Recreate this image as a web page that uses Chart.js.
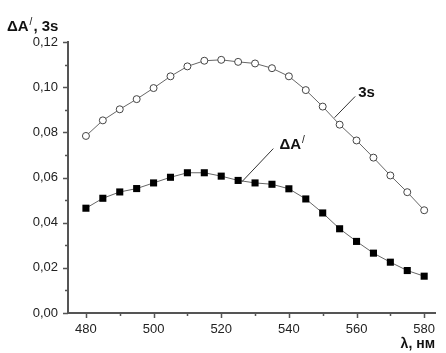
<!DOCTYPE html>
<html>
<head>
<meta charset="utf-8">
<script src="https://cdn.jsdelivr.net/npm/chart.js@4/dist/chart.umd.min.js"></script>
<style>
  html, body { margin: 0; padding: 0; background: #fff; }
  #wrap { width: 446px; height: 353px; }
</style>
</head>
<body>
<div id="wrap"><canvas id="chart" width="446" height="353"></canvas></div>
<script>
// ── Data ──────────────────────────────────────────────────
const wavelengths = [480, 485, 490, 495, 500, 505, 510, 515, 520, 525, 530,
                     535, 540, 545, 550, 555, 560, 565, 570, 575, 580];
const sigma3 = [0.0784, 0.0853, 0.0902, 0.0947, 0.0996, 0.1048, 0.1092, 0.1117, 0.1121, 0.1112, 0.1105,
                0.1084, 0.1048, 0.0987, 0.0914, 0.0834, 0.0764, 0.0688, 0.0609, 0.0535, 0.0455];
const deltaA = [0.0464, 0.0508, 0.0536, 0.0551, 0.0576, 0.0601, 0.0621, 0.0621, 0.0606, 0.0587, 0.0576,
                0.0570, 0.0550, 0.0505, 0.0443, 0.0373, 0.0317, 0.0265, 0.0225, 0.0188, 0.0163];
const xTicks = [480, 500, 520, 540, 560, 580];
const yTicks = [0, 0.02, 0.04, 0.06, 0.08, 0.10, 0.12];

const AXIS = '#555';
const FONT = '"Liberation Sans", Arial, sans-serif';

// ── Custom ticks, titles and callouts ─────────────────────
const decor = {
  id: 'decor',
  afterDraw(chart) {
    const { ctx, scales: { x, y } } = chart;
    ctx.save();
    ctx.strokeStyle = AXIS;
    ctx.lineWidth = 1.5;
    ctx.beginPath();
    // x ticks (major every 20, minor every 10)
    for (let v = 480; v <= 580; v += 10) {
      const px = Math.round(x.getPixelForValue(v)) + 0.5;
      const len = v % 20 === 0 ? 5 : 3;
      ctx.moveTo(px, y.bottom);
      ctx.lineTo(px, y.bottom + len);
    }
    // y ticks (major every 0.02, minor every 0.01)
    for (let i = 0; i <= 12; i++) {
      const py = Math.round(y.getPixelForValue(i / 100)) + 0.5;
      const len = i % 2 === 0 ? 5 : 3;
      ctx.moveTo(x.left, py);
      ctx.lineTo(x.left - len, py);
    }
    ctx.stroke();

    // callout leaders
    ctx.strokeStyle = '#333';
    ctx.lineWidth = 1;
    ctx.beginPath();
    ctx.moveTo(x.getPixelForValue(553.5), y.getPixelForValue(0.0865));
    ctx.lineTo(x.getPixelForValue(559.6), y.getPixelForValue(0.0959));
    ctx.moveTo(x.getPixelForValue(526.1), y.getPixelForValue(0.0581));
    ctx.lineTo(x.getPixelForValue(535.4), y.getPixelForValue(0.0728));
    ctx.stroke();

    ctx.fillStyle = '#111';
    ctx.textBaseline = 'alphabetic';
    ctx.textAlign = 'left';

    // "3s" callout
    ctx.font = 'bold 15px ' + FONT;
    ctx.fillText('3s', x.getPixelForValue(560.5), y.getPixelForValue(0.0958));

    // "ΔA/" callout
    let cx = x.getPixelForValue(537.2), cy = y.getPixelForValue(0.0727);
    ctx.font = 'bold 15px ' + FONT;
    ctx.fillText('ΔA', cx, cy);
    cx += ctx.measureText('ΔA').width + 1;
    ctx.font = '10px ' + FONT;
    ctx.fillText('/', cx, cy - 6);

    // y title
    let tx = 7, ty = 31;
    ctx.font = 'bold 15px ' + FONT;
    ctx.fillText('ΔA', tx, ty);
    tx += ctx.measureText('ΔA').width + 1;
    ctx.font = '10px ' + FONT;
    ctx.fillText('/', tx, ty - 6);
    tx += ctx.measureText('/').width + 1;
    ctx.font = 'bold 15px ' + FONT;
    ctx.fillText(', 3s', tx, ty);

    // x title
    ctx.textAlign = 'right';
    ctx.font = 'bold 14px ' + FONT;
    ctx.fillText('λ, нм', 435, 348);
    ctx.restore();
  }
};

const ctx = document.getElementById('chart').getContext('2d');
new Chart(ctx, {
  type: 'line',
  data: {
    datasets: [
      {
        label: '3s',
        data: wavelengths.map((w, i) => ({ x: w, y: sigma3[i] })),
        borderColor: '#666',
        borderWidth: 1,
        pointStyle: 'circle',
        pointRadius: 3.5,
        pointBorderColor: '#444',
        pointBorderWidth: 1,
        pointBackgroundColor: '#fff',
        tension: 0,
      },
      {
        label: 'ΔA/',
        data: wavelengths.map((w, i) => ({ x: w, y: deltaA[i] })),
        borderColor: '#666',
        borderWidth: 1,
        pointStyle: 'rect',
        pointRadius: 5,
        pointBorderColor: '#000',
        pointBorderWidth: 0,
        pointBackgroundColor: '#000',
        tension: 0,
      },
    ],
  },
  options: {
    responsive: false,
    animation: false,
    events: [],
    layout: { padding: { left: 0, top: 42, right: 11, bottom: 0 } },
    plugins: { legend: { display: false }, tooltip: { enabled: false } },
    scales: {
      x: {
        type: 'linear',
        min: 474.7,
        max: 583.2,
        grid: { display: false, drawTicks: false },
        border: { display: true, color: AXIS, width: 2 },
        afterBuildTicks: s => { s.ticks = xTicks.map(v => ({ value: v })); },
        afterFit: s => { s.height = 40; },
        ticks: {
          padding: 9,
          color: '#222',
          font: { family: FONT, size: 13 },
          maxRotation: 0,
          callback: v => String(v),
        },
      },
      y: {
        type: 'linear',
        min: 0,
        max: 0.12,
        grid: { display: false, drawTicks: false },
        border: { display: true, color: AXIS, width: 2 },
        afterBuildTicks: s => { s.ticks = yTicks.map(v => ({ value: v })); },
        afterFit: s => { s.width = 68; },
        ticks: {
          padding: 10,
          color: '#222',
          font: { family: FONT, size: 13 },
          callback: v => v.toFixed(2).replace('.', ','),
        },
      },
    },
  },
  plugins: [decor],
});
</script>
</body>
</html>
